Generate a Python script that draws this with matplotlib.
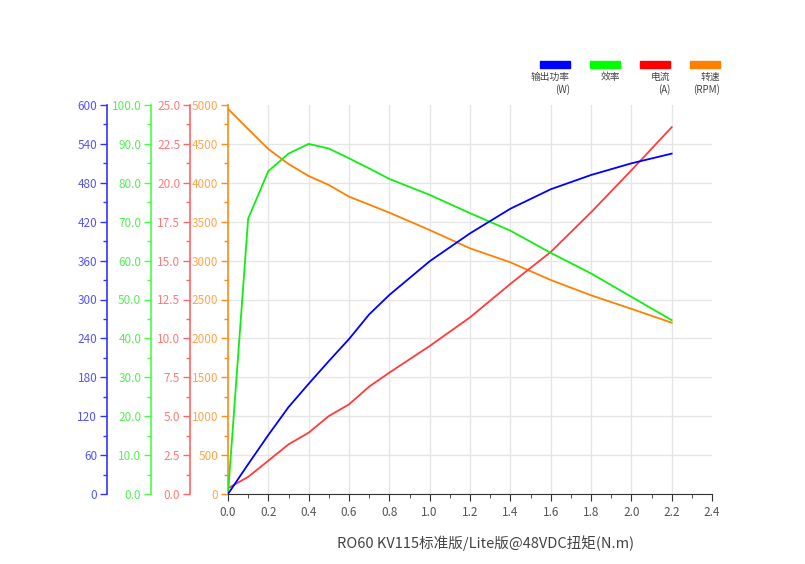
import matplotlib.pyplot as plt
from matplotlib.ticker import MultipleLocator, FormatStrFormatter
from matplotlib.patches import Rectangle

plt.rcParams['font.family'] = ['Noto Sans CJK SC', 'DejaVu Sans']

# torque (N.m)
torque = [0.0, 0.1, 0.2, 0.3, 0.4, 0.5, 0.6, 0.7, 0.8, 1.0, 1.2, 1.4, 1.6, 1.8, 2.0, 2.2]
power = [0, 46, 91, 134, 170, 205, 239, 277, 307, 359, 402, 440, 470, 492, 510, 525]           # W
eff = [0, 70.8, 83.0, 87.5, 90.0, 88.8, 86.3, 83.7, 81.0, 76.9, 72.2, 67.7, 62.0, 56.7, 50.7, 44.7]  # %
current = [0.37, 1.1, 2.14, 3.19, 3.94, 5.01, 5.76, 6.90, 7.80, 9.51, 11.35, 13.5, 15.55, 18.1, 20.8, 23.57]  # A
speed = [4950, 4690, 4434, 4242, 4087, 3972, 3822, 3720, 3616, 3393, 3158, 2978, 2751, 2554, 2380, 2202]  # RPM

legend_names = ['输出功率\n(W)', '效率', '电流\n(A)', '转速\n(RPM)']
legend_cols = ['#0000ff', '#00ff00', '#ff0000', '#ff8000']
xlabel = 'RO60 KV115标准版/Lite版@48VDC扭矩(N.m)'

fig = plt.figure(figsize=(8.05, 5.64), dpi=100)
ax = fig.add_axes([228 / 805, 70 / 564, 484 / 805, 389 / 564])

# series: (data, ylim, major step, fmt, line color, spine color, label color, offset px)
series = [
    (speed, 5000, 500, '%d', '#ff8000', '#ff8c1a', '#ffa64d', 0),
    (current, 25, 2.5, '%.1f', '#ff3b3b', '#ff6666', '#ff7a7a', 38),
    (eff, 100, 10, '%.1f', '#11ee11', '#44ff44', '#55ee55', 77),
    (power, 600, 60, '%d', '#0000ff', '#3333ff', '#5555ff', 121),
]

for i, (vals, top, step, fmt, lc, sc, tc, off) in enumerate(series):
    a = ax if i == 0 else ax.twinx()
    a.plot(torque, vals, color=lc, lw=1.3, zorder=3)
    a.set_ylim(0, top)
    a.set_xlim(0, 2.4)
    a.yaxis.set_major_locator(MultipleLocator(step))
    a.yaxis.set_minor_locator(MultipleLocator(step / 2))
    a.yaxis.set_major_formatter(FormatStrFormatter(fmt))
    a.yaxis.set_ticks_position('left')
    for s in ['top', 'right']:
        a.spines[s].set_visible(False)
    if i > 0:
        a.spines['bottom'].set_visible(False)
    a.spines['left'].set_visible(True)
    a.spines['left'].set_position(('outward', off * 72 / 100))
    a.spines['left'].set_color(sc)
    a.spines['left'].set_linewidth(1.2)
    a.tick_params(axis='y', which='major', length=5, width=1, color=sc,
                  labelcolor=tc, labelsize=8.5, pad=2)
    a.tick_params(axis='y', which='minor', length=3, width=1, color=sc)
    a.patch.set_visible(False)

ax.xaxis.set_major_locator(MultipleLocator(0.2))
ax.xaxis.set_minor_locator(MultipleLocator(0.1))
ax.xaxis.set_major_formatter(FormatStrFormatter('%.1f'))
ax.tick_params(axis='x', which='major', length=5, color='#333333', labelcolor='#555555', labelsize=8.5)
ax.tick_params(axis='x', which='minor', length=3, color='#333333')
ax.spines['bottom'].set_color('#333333')
ax.grid(True, which='major', color='#e6e6e6', lw=1)
ax.set_axisbelow(True)

# no grid lines on the outer edges
fig.canvas.draw()
for t in ax.yaxis.get_major_ticks():
    if t.get_loc() >= 5000 - 1e-6:
        t.gridline.set_visible(False)
for t in ax.xaxis.get_major_ticks():
    if t.get_loc() >= 2.4 - 1e-6:
        t.gridline.set_visible(False)

fig.text(486 / 805, 1 - 543 / 564, xlabel, ha='center', va='center', fontsize=10.5, color='#444444')

# legend
for k, (name, col) in enumerate(zip(legend_names, legend_cols)):
    x1 = 570 + k * 50
    fig.patches.append(Rectangle(((x1 - 30) / 805, 1 - 68 / 564), 30 / 805, 7 / 564,
                                 transform=fig.transFigure, color=col))
    fig.text(x1 / 805, 1 - 72 / 564, name, ha='right', va='top', fontsize=7,
             color='#444444', linespacing=1.25, multialignment='right')

fig.savefig('out.png', dpi=100)
